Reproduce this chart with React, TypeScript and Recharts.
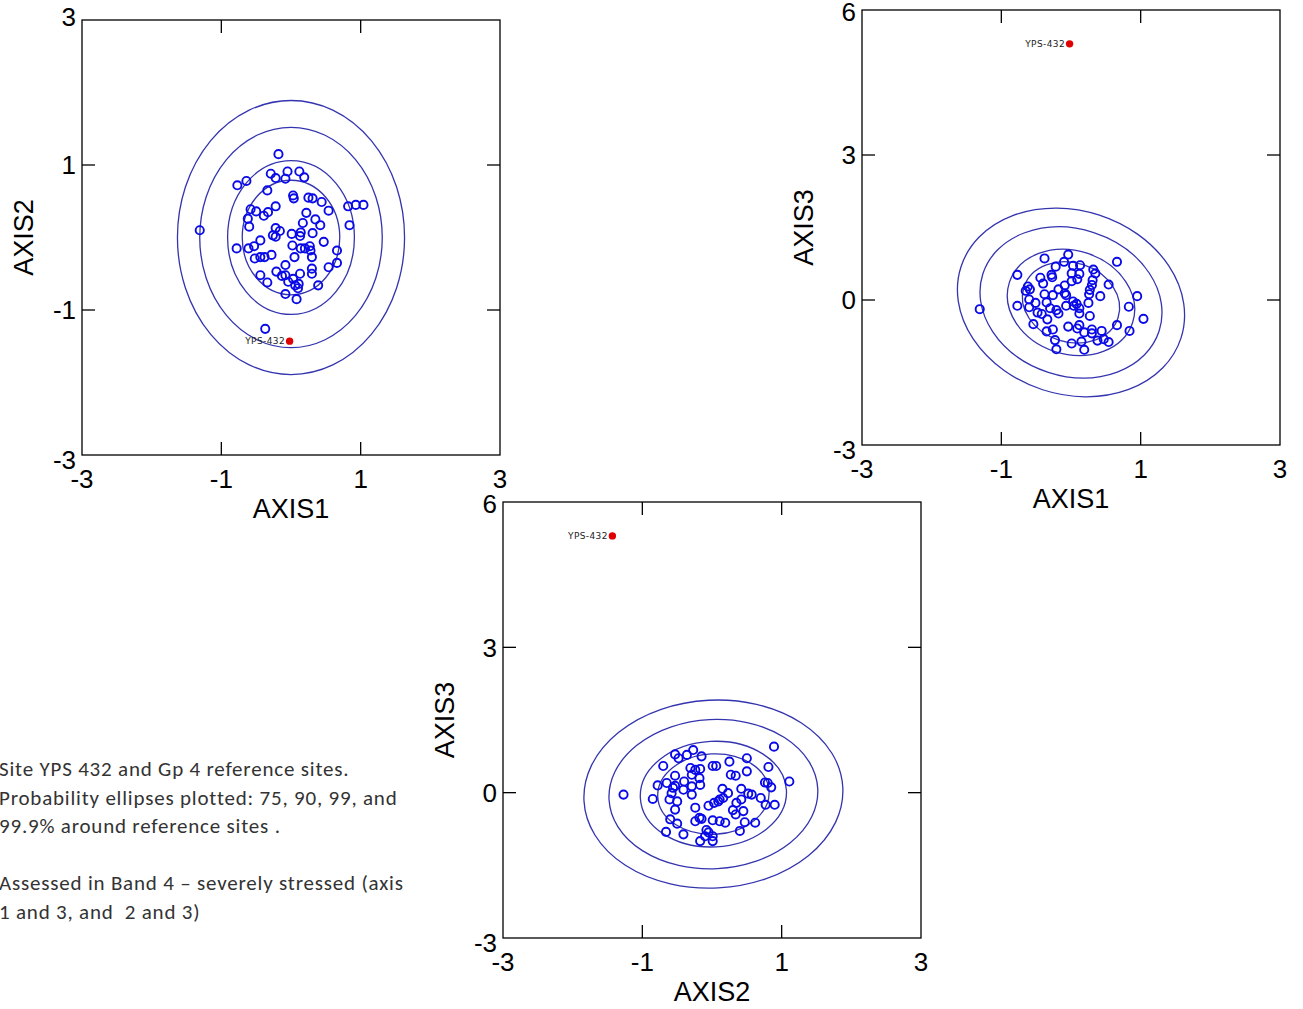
import React from 'react';
import { ScatterChart, Scatter, XAxis, YAxis, ReferenceArea } from 'recharts';

// ---------- data ----------
const SITE_NAME = 'YPS-432';
const siteAxis1 = -0.02;
const siteAxis2 = -1.43;
const siteAxis3 = 5.3;

// Panel 1: AXIS1 (x) vs AXIS2 (y)
const p1Axis1 = [-0.18,-0.29,-0.22,-0.05,-0.08,0.12,0.19,-0.77,-0.64,-0.34,0.03,0.04,0.25,0.31,0.44,0.54,0.82,0.93,1.04,-1.31,-0.58,-0.5,-0.62,-0.39,-0.33,-0.22,0.22,0.17,0.35,0.42,0.84,-0.6,-0.22,-0.16,-0.26,-0.22,0.01,0.14,0.13,0.31,0.47,-0.78,-0.61,-0.53,-0.44,0.02,0.14,0.2,0.27,0.28,0.66,-0.52,-0.44,-0.38,-0.28,0.05,0.3,0.66,0.54,-0.08,-0.21,-0.13,-0.08,0.03,0.13,0.3,0.3,0.39,-0.44,-0.34,-0.04,0.06,0.11,0.1,-0.08,0.08,-0.37];
const p1Axis2 = [1.15,0.88,0.82,0.91,0.81,0.91,0.83,0.72,0.78,0.65,0.58,0.54,0.55,0.54,0.49,0.37,0.43,0.45,0.45,0.1,0.39,0.36,0.26,0.3,0.35,0.43,0.34,0.2,0.25,0.17,0.17,0.15,0.13,0.09,0.03,0.01,0.05,0.07,0.02,0.06,-0.06,-0.15,-0.15,-0.12,-0.04,-0.11,-0.15,-0.15,-0.12,-0.18,-0.18,-0.29,-0.27,-0.27,-0.24,-0.27,-0.27,-0.35,-0.41,-0.38,-0.47,-0.53,-0.52,-0.57,-0.5,-0.43,-0.5,-0.66,-0.52,-0.62,-0.61,-0.66,-0.64,-0.7,-0.78,-0.85,-1.26];

// Panel 2: AXIS1 (x) vs AXIS3 (y)
const p2Axis1 = [-0.04,-0.38,-0.1,-0.22,0.66,0.03,0.13,0.01,0.12,0.32,0.35,-0.77,-0.44,-0.28,-0.27,-0.4,0.01,0.09,0.31,0.3,0.54,-0.62,-0.59,-0.65,-0.09,-0.18,0.27,-0.38,-0.26,-0.09,-0.07,0.26,0.42,0.95,-0.6,-0.51,-0.35,0.03,0.08,0.25,-0.77,-0.6,-0.48,-0.42,-0.3,-0.21,-0.18,-0.07,0.04,0.12,0.12,0.83,-1.31,-0.34,-0.54,0.27,0.66,-0.04,0.12,0.09,0.3,0.44,0.19,-0.26,-0.35,0.84,1.04,0.3,0.47,0.54,0.38,-0.23,0.01,0.15,-0.21,0.19];
const p2Axis3 = [0.94,0.86,0.79,0.69,0.79,0.71,0.72,0.55,0.54,0.63,0.55,0.52,0.46,0.52,0.47,0.34,0.39,0.43,0.41,0.31,0.32,0.28,0.22,0.19,0.3,0.22,0.21,0.12,0.1,0.14,0.1,0.12,0.08,0.08,0.01,-0.06,-0.05,-0.03,-0.08,-0.06,-0.12,-0.15,-0.26,-0.29,-0.17,-0.21,-0.28,-0.12,-0.12,-0.17,-0.28,-0.14,-0.19,-0.4,-0.5,-0.33,-0.52,-0.55,-0.52,-0.59,-0.61,-0.64,-0.67,-0.61,-0.65,-0.64,-0.39,-0.69,-0.81,-0.87,-0.84,-0.83,-0.9,-0.86,-1.02,-1.03];

// Panel 3: AXIS2 (x) vs AXIS3 (y)
const p3Axis2 = [0.89,-0.27,-0.53,-0.36,-0.48,-0.15,0.5,-0.7,0.01,0.06,0.25,0.81,-0.31,-0.24,-0.17,-0.29,0.5,-0.53,-0.18,0.27,0.34,-0.78,-0.65,-0.4,-0.29,-0.17,-0.53,1.11,0.76,0.8,0.85,0.15,0.23,0.42,0.52,0.57,-0.56,-0.41,-0.29,-0.58,-0.85,-0.61,-0.5,0.16,0.11,0.09,0.03,-0.05,0.7,0.77,0.9,-1.27,0.42,0.35,0.3,0.45,0.34,-0.24,-0.53,-0.6,-0.5,-0.24,-0.18,-0.15,0.01,0.11,0.19,0.47,0.62,-0.66,-0.41,-0.08,-0.05,-0.1,-0.17,0.01,0.01,0.4];
const p3Axis3 = [0.95,0.88,0.79,0.78,0.71,0.75,0.71,0.55,0.55,0.55,0.64,0.53,0.51,0.47,0.49,0.37,0.44,0.35,0.3,0.37,0.35,0.15,0.2,0.23,0.13,0.16,0.14,0.23,0.21,0.2,0.11,0.08,-0.01,0.08,-0.02,-0.04,0.1,0.06,-0.04,-0.01,-0.13,-0.14,-0.18,-0.11,-0.14,-0.18,-0.21,-0.27,-0.11,-0.25,-0.25,-0.04,-0.14,-0.21,-0.36,-0.38,-0.45,-0.31,-0.35,-0.55,-0.64,-0.59,-0.52,-0.54,-0.57,-0.59,-0.62,-0.61,-0.62,-0.81,-0.86,-0.77,-0.82,-0.9,-1.0,-1.0,-0.9,-0.79];

// Probability ellipses (99.9, 99, 90, 75 %): centre and semi-axes in axis units
const p1EllipseCentre = [0.0, 0.0];
const p1EllipseRx = [1.63, 1.31, 0.91, 0.7];
const p1EllipseRy = [1.89, 1.52, 1.06, 0.79];
const p1EllipseTilt = 0;

const p2EllipseCentre = [0.0, -0.05];
const p2EllipseRx = [1.66, 1.33, 0.93, 0.71];
const p2EllipseRy = [1.9, 1.52, 1.07, 0.82];
const p2EllipseTilt = 18;

const p3EllipseCentre = [0.02, -0.03];
const p3EllipseRx = [1.86, 1.5, 1.05, 0.8];
const p3EllipseRy = [1.94, 1.54, 1.09, 0.83];
const p3EllipseTilt = -3;

// Axis ticks
const ticksAxis1 = [-3, -1, 1, 3];
const ticksAxis2 = [-3, -1, 1, 3];
const ticksAxis3 = [-3, 0, 3, 6];
const innerAxis1 = [-1, 1];
const innerAxis2 = [-1, 1];
const innerAxis3 = [0, 3];

const noteLines = [
  'Site YPS 432 and Gp 4 reference sites.',
  'Probability ellipses plotted: 75, 90, 99, and',
  '99.9% around reference sites .',
  '',
  'Assessed in Band 4 \u2013 severely stressed (axis',
  '1 and 3, and  2 and 3)',
];

// ---------- styling ----------
const AXIS_FONT = '"Liberation Sans", Arial, Helvetica, sans-serif';
const TICK_FONT_SIZE = 26;
const TITLE_FONT_SIZE = 27;
const TICK_LEN = 13;
const FRAME = '#000';
const FRAME_W = 1.3;
const POINT_BLUE = '#0a0ae8';
const ELLIPSE_BLUE = '#3434b0';
const SITE_RED = '#e00000';

const X_TICK_GAP = 15;
const Y_TICK_GAP = 6;

const LEFT = 82;
const TOP = 20;
const RIGHT = 12;
const BOTTOM = 70;

type PanelCfg = {
  plotLeft: number;
  plotTop: number;
  plotW: number;
  plotH: number;
  xs: number[];
  ys: number[];
  siteX: number;
  siteY: number;
  xDomain: [number, number];
  yDomain: [number, number];
  xTicks: number[];
  yTicks: number[];
  xInner: number[];
  yInner: number[];
  xTitle: string;
  yTitle: string;
  centre: number[];
  rx: number[];
  ry: number[];
  tilt: number;
  topLabelShift: number;
};

// bottom axis tick: label + inward tick marks on the bottom and (mirrored) top frame
const makeBottomTick = (inner: number[], plotH: number) => (props: any) => {
  const { x, y, payload } = props;
  const v = payload.value;
  const axisY = y - X_TICK_GAP;
  const topY = axisY - plotH;
  return (
    <g>
      {inner.includes(v) && (
        <g>
          <line x1={x} x2={x} y1={axisY} y2={axisY - TICK_LEN} stroke={FRAME} strokeWidth={FRAME_W} />
          <line x1={x} x2={x} y1={topY} y2={topY + TICK_LEN} stroke={FRAME} strokeWidth={FRAME_W} />
        </g>
      )}
      <text x={x} y={y} dy="0.71em" textAnchor="middle" fontSize={TICK_FONT_SIZE} fontFamily={AXIS_FONT} fill="#000">
        {String(v)}
      </text>
    </g>
  );
};

// left axis tick: label + inward tick marks on the left and (mirrored) right frame
const makeLeftTick = (inner: number[], min: number, max: number, plotW: number, topShift: number) => (props: any) => {
  const { x, y, payload } = props;
  const v = payload.value;
  const axisX = x + Y_TICK_GAP;
  const rightX = axisX + plotW;
  const shift = v === min ? 5 : v === max ? topShift : 0;
  return (
    <g>
      {inner.includes(v) && (
        <g>
          <line x1={axisX} x2={axisX + TICK_LEN} y1={y} y2={y} stroke={FRAME} strokeWidth={FRAME_W} />
          <line x1={rightX} x2={rightX - TICK_LEN} y1={y} y2={y} stroke={FRAME} strokeWidth={FRAME_W} />
        </g>
      )}
      <text x={x} y={y + shift} dy="0.355em" textAnchor="end" fontSize={TICK_FONT_SIZE} fontFamily={AXIS_FONT} fill="#000">
        {String(v)}
      </text>
    </g>
  );
};

const makeEllipseShape = (tilt: number) => (p: any) => {
  const cx = p.x + p.width / 2;
  const cy = p.y + p.height / 2;
  return (
    <ellipse
      cx={cx}
      cy={cy}
      rx={Math.abs(p.width) / 2}
      ry={Math.abs(p.height) / 2}
      transform={`rotate(${tilt} ${cx} ${cy})`}
      fill="none"
      stroke={ELLIPSE_BLUE}
      strokeWidth={1.3}
    />
  );
};

const FrameShape = (p: any) => (
  <rect x={p.x} y={p.y} width={p.width} height={p.height} fill="none" stroke={FRAME} strokeWidth={FRAME_W} />
);

const RefPoint = (p: any) => (
  <circle cx={p.cx} cy={p.cy} r={4.1} fill="none" stroke={POINT_BLUE} strokeWidth={1.9} />
);

const SitePoint = (p: any) => (
  <g>
    <circle cx={p.cx} cy={p.cy} r={3.7} fill={SITE_RED} />
    <text
      x={p.cx - 4.5}
      y={p.cy + 3.2}
      textAnchor="end"
      fontSize={9}
      letterSpacing={0.4}
      fontFamily='"DejaVu Sans", sans-serif'
      fill="#222"
    >
      {p.payload.name}
    </text>
  </g>
);

function Panel({ cfg }: { cfg: PanelCfg }) {
  const data = cfg.xs.map((x, i) => ({ x, y: cfg.ys[i] }));
  const site = [{ x: cfg.siteX, y: cfg.siteY, name: SITE_NAME }];
  const width = LEFT + cfg.plotW + RIGHT;
  const height = TOP + cfg.plotH + BOTTOM;
  return (
    <div style={{ position: 'absolute', left: cfg.plotLeft - LEFT, top: cfg.plotTop - TOP }}>
      <ScatterChart width={width} height={height} margin={{ top: TOP, right: RIGHT, left: 2, bottom: 0 }}>
        <XAxis
          type="number"
          dataKey="x"
          domain={cfg.xDomain}
          ticks={cfg.xTicks}
          interval={0}
          allowDataOverflow
          height={BOTTOM}
          tickSize={0}
          tickMargin={X_TICK_GAP}
          tickLine={false}
          axisLine={false}
          tick={makeBottomTick(cfg.xInner, cfg.plotH)}
          label={{
            value: cfg.xTitle,
            position: 'insideBottom',
            offset: 7,
            fontSize: TITLE_FONT_SIZE,
            fontFamily: AXIS_FONT,
            fill: '#000',
          }}
        />
        <YAxis
          type="number"
          dataKey="y"
          domain={cfg.yDomain}
          ticks={cfg.yTicks}
          interval={0}
          allowDataOverflow
          width={LEFT - 2}
          tickSize={0}
          tickMargin={Y_TICK_GAP}
          tickLine={false}
          axisLine={false}
          tick={makeLeftTick(cfg.yInner, cfg.yDomain[0], cfg.yDomain[1], cfg.plotW, cfg.topLabelShift)}
          label={{
            value: cfg.yTitle,
            angle: -90,
            position: 'insideLeft',
            offset: 21,
            fontSize: TITLE_FONT_SIZE,
            fontFamily: AXIS_FONT,
            fill: '#000',
            style: { textAnchor: 'middle' },
          }}
        />
        <ReferenceArea
          x1={cfg.xDomain[0]}
          x2={cfg.xDomain[1]}
          y1={cfg.yDomain[0]}
          y2={cfg.yDomain[1]}
          ifOverflow="visible"
          shape={FrameShape}
        />
        {cfg.rx.map((rx, i) => (
          <ReferenceArea
            key={`e${i}`}
            x1={cfg.centre[0] - rx}
            x2={cfg.centre[0] + rx}
            y1={cfg.centre[1] - cfg.ry[i]}
            y2={cfg.centre[1] + cfg.ry[i]}
            ifOverflow="visible"
            shape={makeEllipseShape(cfg.tilt)}
          />
        ))}
        <Scatter data={data} shape={RefPoint} isAnimationActive={false} />
        <Scatter data={site} shape={SitePoint} isAnimationActive={false} />
      </ScatterChart>
    </div>
  );
}

const panels: PanelCfg[] = [
  {
    plotLeft: 82, plotTop: 20, plotW: 418, plotH: 435,
    xs: p1Axis1, ys: p1Axis2, siteX: siteAxis1, siteY: siteAxis2,
    xDomain: [-3, 3], yDomain: [-3, 3],
    xTicks: ticksAxis1, yTicks: ticksAxis2, xInner: innerAxis1, yInner: innerAxis2,
    xTitle: 'AXIS1', yTitle: 'AXIS2',
    centre: p1EllipseCentre, rx: p1EllipseRx, ry: p1EllipseRy, tilt: p1EllipseTilt,
    topLabelShift: -3,
  },
  {
    plotLeft: 862, plotTop: 10, plotW: 418, plotH: 435,
    xs: p2Axis1, ys: p2Axis3, siteX: siteAxis1, siteY: siteAxis3,
    xDomain: [-3, 3], yDomain: [-3, 6],
    xTicks: ticksAxis1, yTicks: ticksAxis3, xInner: innerAxis1, yInner: innerAxis3,
    xTitle: 'AXIS1', yTitle: 'AXIS3',
    centre: p2EllipseCentre, rx: p2EllipseRx, ry: p2EllipseRy, tilt: p2EllipseTilt,
    topLabelShift: 2,
  },
  {
    plotLeft: 503, plotTop: 502, plotW: 418, plotH: 436,
    xs: p3Axis2, ys: p3Axis3, siteX: siteAxis2, siteY: siteAxis3,
    xDomain: [-3, 3], yDomain: [-3, 6],
    xTicks: ticksAxis2, yTicks: ticksAxis3, xInner: innerAxis2, yInner: innerAxis3,
    xTitle: 'AXIS2', yTitle: 'AXIS3',
    centre: p3EllipseCentre, rx: p3EllipseRx, ry: p3EllipseRy, tilt: p3EllipseTilt,
    topLabelShift: 2,
  },
];

export default function App() {
  return (
    <div style={{ position: 'absolute', left: 0, top: 0, width: 1303, height: 1009, background: '#fff', overflow: 'hidden' }}>
      {panels.map((cfg, i) => (
        <Panel key={i} cfg={cfg} />
      ))}
      <div
        style={{
          position: 'absolute',
          left: -1,
          top: 755,
          fontFamily: 'Carlito, Lato, "Open Sans", sans-serif',
          fontSize: 21,
          letterSpacing: 0.8,
          lineHeight: '28.5px',
          color: '#333',
          whiteSpace: 'pre',
        }}
      >
        {noteLines.map((l, i) => (
          <div key={i} style={{ height: 28.5 }}>{l}</div>
        ))}
      </div>
    </div>
  );
}
